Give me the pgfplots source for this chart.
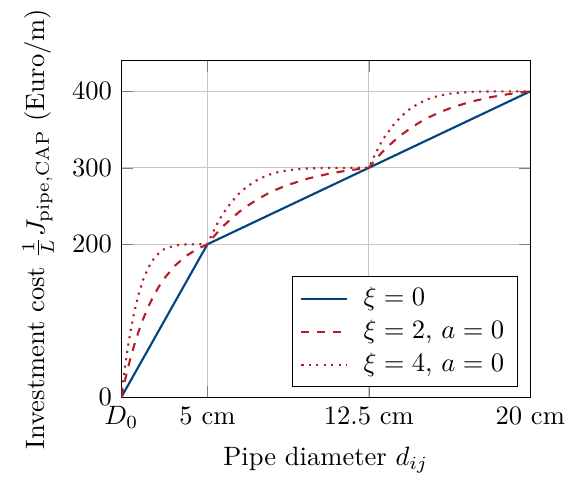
\documentclass[border=0pt]{standalone}
\usepackage{amsmath}
\usepackage{pgfplots}
\pgfplotsset{compat=1.18}
\definecolor{cblue}{RGB}{0,68,128}
\definecolor{cred}{RGB}{180,30,40}
\begin{document}
\begin{tikzpicture}
\begin{axis}[
  scale only axis,
  width=154pt, height=126.7pt,
  xmin=1, xmax=20, ymin=0, ymax=440,
  xtick={1,5,12.5,20},
  xticklabels={$D_0$, 5 cm, 12.5 cm, 20 cm},
  ytick={0,200,300,400},
  grid=major,
  major grid style={gray!45},
  xlabel={Pipe diameter $d_{ij}$},
  ylabel={Investment cost $\frac{1}{L}J_{\text{pipe,CAP}}$ (Euro/m)},
  legend style={at={(0.97,0.03)}, anchor=south east, cells={anchor=west}},
  legend cell align=left,
]
\addplot[cblue, thick] coordinates {(1,0) (5,200) (12.5,300) (20,400)};
\addlegendentry{\hspace{4pt}$\xi=0$}
\addplot[cred, thick, dashed] coordinates {
(1,0) (1.1,13.2) (1.2,25.6) (1.3,37.3) (1.4,48.2) (1.6,68.1) (1.8,85.7) (2.0,101.3) (2.25,118.1) (2.5,132.6) (2.75,144.9) (3.0,155.5) (3.5,172.2) (4.0,184.5) (4.5,193.4) (5,200)
(5.19,206.6) (5.38,212.8) (5.56,218.6) (5.75,224.1) (6.13,234.1) (6.5,242.9) (6.88,250.6) (7.34,259.1) (7.81,266.3) (8.28,272.5) (8.75,277.7) (9.69,286.1) (10.63,292.2) (11.56,296.7) (12.5,300)
(12.69,306.6) (12.88,312.8) (13.06,318.6) (13.25,324.1) (13.63,334.1) (14.0,342.9) (14.38,350.6) (14.84,359.1) (15.31,366.3) (15.78,372.5) (16.25,377.7) (17.19,386.1) (18.13,392.2) (19.06,396.7) (20,400)
};
\addlegendentry{\hspace{4pt}$\xi=2$, $a=0$}
\addplot[cred, thick, dotted] coordinates {
(1,0) (1.05,12.2) (1.1,23.8) (1.2,45.2) (1.3,64.6) (1.4,82.0) (1.6,111.3) (1.8,134.5) (2.0,152.5) (2.25,169.3) (2.5,180.9) (2.75,188.7) (3.0,193.8) (3.5,198.5) (4.0,199.8) (4.5,200) (5,200)
(5.19,211.9) (5.38,222.6) (5.56,232.3) (5.75,241.0) (6.13,255.6) (6.5,267.2) (6.88,276.3) (7.34,284.6) (7.81,290.5) (8.28,294.4) (8.75,296.9) (9.69,299.3) (10.63,299.9) (11.56,300) (12.5,300)
(12.69,311.9) (12.88,322.6) (13.06,332.3) (13.25,341.0) (13.63,355.6) (14.0,367.2) (14.38,376.3) (14.84,384.6) (15.31,390.5) (15.78,394.4) (16.25,396.9) (17.19,399.3) (18.13,399.9) (19.06,400) (20,400)
};
\addlegendentry{\hspace{4pt}$\xi=4$, $a=0$}
\end{axis}
\path (current axis.south west) ++(-45.7pt,-29.4pt);
\path (current axis.north east) ++(18pt,21.1pt);
\end{tikzpicture}
\end{document}
